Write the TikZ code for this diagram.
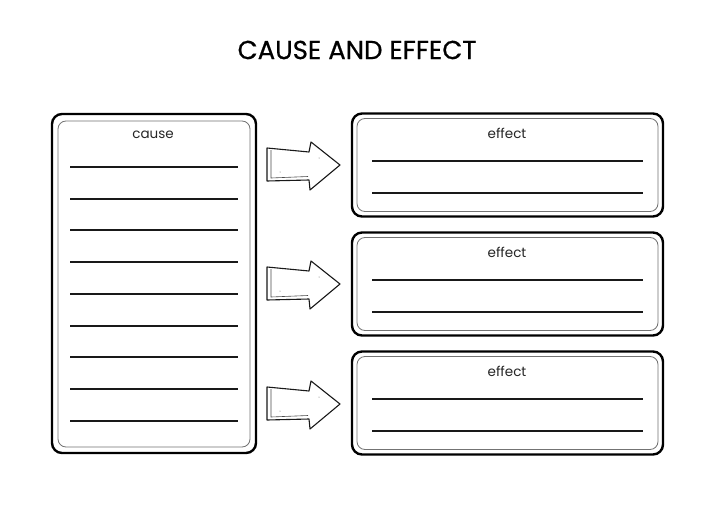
\documentclass[tikz,border=0pt]{standalone}
\usepackage{fontspec}
\setmainfont{Poppins}
\newfontfamily\titlefont[FakeBold=0.6]{Poppins}
\begin{document}
\begin{tikzpicture}[x=1pt,y=-1pt,
  outerbox/.style={draw=black, line width=2.4pt, rounded corners=10pt, inner sep=0pt},
  innerbox/.style={draw=black!55, line width=0.8pt, rounded corners=8pt, inner sep=0pt},
  writeline/.style={draw=black!90, line width=1.8pt},
  lbl/.style={font=\fontsize{13.5}{15}\selectfont, text=black!85, inner sep=0pt},
  arrowshape/.style={draw=black!90, line width=1.1pt, line join=round, fill=white},
  arrowinner/.style={draw=black!70, line width=0.6pt}
]
\useasboundingbox (0,0) rectangle (715,506);
\fill[white] (0,0) rectangle (715,506);

\node[font=\titlefont\fontsize{26}{28}\selectfont, inner sep=0pt] (title) at (357,50) {CAUSE AND EFFECT};

% cause box
\node[outerbox, minimum width=204pt, minimum height=339pt] (causeO) at (154,283.5) {};
\node[innerbox, minimum width=192pt, minimum height=326pt] (causeI) at (154,284) {};
\node[lbl] (causeL) at (153,135) {cause};
\foreach \y [count=\i] in {167,199,230,262,294,326,357,389,421}{
  \coordinate (cl\i a) at (70,\y);
  \coordinate (cl\i b) at (238,\y);
  \draw[writeline] (cl\i a) -- (cl\i b);
}

% effect boxes
\foreach \c [count=\k] in {165,284,403}{
  \node[outerbox, minimum width=311pt, minimum height=103pt] (effO\k) at (507.5,\c) {};
  \node[innerbox, minimum width=301pt, minimum height=93pt] (effI\k) at (507.5,\c) {};
  \node[lbl] (effL\k) at (507,\c-32) {effect};
  \coordinate (el\k a) at (372,\c-4);
  \coordinate (el\k b) at (643,\c-4);
  \coordinate (el\k c) at (372,\c+28);
  \coordinate (el\k d) at (643,\c+28);
  \draw[writeline] (el\k a) -- (el\k b);
  \draw[writeline] (el\k c) -- (el\k d);
}

% arrows
\foreach \c [count=\k] in {165,284,404}{
  \begin{scope}[shift={(0,\c-165)}]
    \coordinate (a\k s) at (267,148);
    \coordinate (a\k t) at (340,165);
    \draw[arrowshape] (a\k s) -- (309,152) -- (311,142) -- (a\k t) -- (310,190) -- (309,180) -- (267,181) -- cycle;
    \draw[arrowinner] (271,150) -- (271,178) -- (308,176.5);
    \fill[black!60] (280,172) circle (0.5pt);
    \fill[black!60] (319,158) circle (0.5pt);
  \end{scope}
}
\end{tikzpicture}
\end{document}
